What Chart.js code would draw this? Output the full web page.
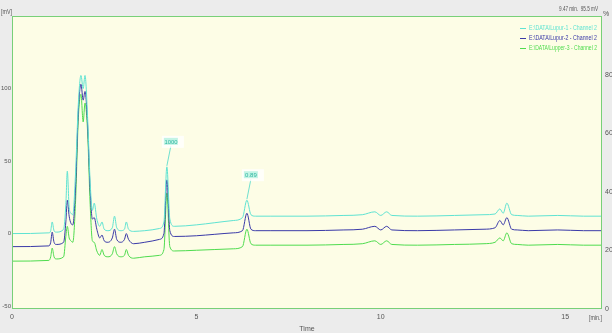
<!DOCTYPE html>
<html>
<head>
<meta charset="utf-8">
<script src="https://cdn.jsdelivr.net/npm/chart.js@4/dist/chart.umd.min.js"></script>
<style>
html,body{margin:0;padding:0;background:#ececec;}
#wrap{width:612px;height:333px;}
</style>
</head>
<body>
<div id="wrap"><canvas id="chrom" width="612" height="333"></canvas></div>
<script>
// retention time (min)
const times = [0, 1.00, 1.05, 1.09, 1.14, 1.20, 1.40, 1.46, 1.50, 1.55, 1.60, 1.65, 1.72, 1.80, 1.87, 1.93, 1.98, 2.05, 2.12, 2.18, 2.23, 2.30, 2.38, 2.44, 2.50, 2.60, 2.72, 2.78, 2.84, 2.95, 3.05, 3.10, 3.16, 3.30, 3.60, 4.00, 4.12, 4.20, 4.28, 4.40, 5.00, 5.50, 6.00, 6.25, 6.37, 6.48, 6.60, 7.00, 8.00, 9.00, 9.50, 9.84, 10.00, 10.16, 10.30, 11.00, 12.00, 12.80, 13.10, 13.23, 13.32, 13.42, 13.55, 13.70, 14.00, 14.80, 15.50, 16.00];

// signal (mV)
const lupur1 = [0, 0.5, 2, 8, 2, 1, 3, 20, 43, 18, 14, 13, 40, 90, 109, 100, 109, 80, 35, 16, 21, 10, 5, 8, 3, 2, 4, 12, 4, 2, 3, 8, 3, 1.5, 2, 3.5, 8, 46, 10, 5, 6, 7.5, 9, 11, 23, 13, 12, 12, 12, 12.5, 13, 15, 12.5, 15, 12.5, 12, 12.5, 13, 13.5, 17, 14, 21, 13, 12.5, 12, 12.5, 12, 12];
const lupur2 = [-9, -8.5, -6, 1, -6, -7.5, -6, 8, 23, 12, 7, 6, 30, 85, 103, 92, 98, 75, 30, 10, 11, 3, -3, -1, -5, -6, -3, 3, -4, -6, -4, 0, -4, -7, -6, -4, 0, 37, 2, -2, -1.5, -0.5, 0.5, 2, 14, 3, 2, 2, 2, 2.5, 3, 5, 2.5, 5, 2.5, 2, 2.5, 3, 4, 9, 6, 11, 3, 2.5, 2, 2.5, 2, 2];
const lupper3 = [-19, -18.5, -16, -10, -16, -17.5, -16, -2, 5, -3, -5, -6, 20, 80, 96, 77, 90, 70, 20, -5, -6, -12, -15, -11, -15, -16, -14, -9, -14, -16, -15, -11, -15, -17, -16, -15, -11, 28, -9, -12, -11.5, -11, -10.5, -9, 3, -7, -8, -8, -8, -7.5, -7, -5, -7.5, -5, -7.5, -8, -7.5, -7, -6, -3, -5, 0.5, -7, -7.5, -8, -7.5, -8, -8];

const seriesNames = ['E:\\DATA\\Lupur-1 - Channel 2', 'E:\\DATA\\Lupur-2 - Channel 2', 'E:\\DATA\\Lupper-3 - Channel 2'];
const seriesColors = ['#5fe3d2', '#3a3aa8', '#4fdc4f'];

const xTicks = [0, 5, 10, 15];
const leftTicks = [-50, 0, 50, 100];
const rightTicks = [0, 20, 40, 60, 80];

// peak labels on first trace
const peakTimes = [4.20, 6.37];
const peakTexts = ['1000', '0.89'];

const cursorText = '9.47 min.  95.5 mV';

function toPoints(vals){
  return times.map((t,i)=>({x:t,y:vals[i]}));
}

const tickFont = {family:'Liberation Sans', size:7};

const decor = {
  id:'decor',
  beforeDraw(chart){
    let ctx = chart.ctx, a = chart.chartArea;
    ctx.save();
    ctx.fillStyle = '#ececec';
    ctx.fillRect(0,0,chart.width,chart.height);
    ctx.fillStyle = '#fdfde6';
    ctx.fillRect(a.left,a.top,a.right-a.left,a.bottom-a.top);
    ctx.restore();
  },
  afterDatasetsDraw(chart){
    let ctx = chart.ctx, a = chart.chartArea;
    let xs = chart.scales.x, ys = chart.scales.y;
    ctx.save();
    // frame
    ctx.strokeStyle = '#78d078';
    ctx.lineWidth = 1;
    ctx.strokeRect(a.left+0.5,a.top+0.5,a.right-a.left-1,a.bottom-a.top-1);
    // peak labels
    ctx.font = '6px "Liberation Sans"';
    peakTimes.forEach((t,i)=>{
      let idx = times.indexOf(t);
      let px = xs.getPixelForValue(t), py = ys.getPixelForValue(lupur1[idx]);
      let bx = px+4, by = py-25;
      ctx.strokeStyle = '#6fe0cf';
      ctx.beginPath();
      ctx.moveTo(px,py-1);
      ctx.lineTo(bx,by+4);
      ctx.stroke();
      ctx.fillStyle = 'rgba(255,255,255,0.8)';
      ctx.fillRect(bx-9,by-6,22,12);
      ctx.fillStyle = 'rgba(120,230,205,0.45)';
      ctx.fillRect(bx-7,by-4,14,7);
      ctx.fillStyle = '#2fb5a0';
      ctx.textAlign = 'center';
      ctx.textBaseline = 'middle';
      ctx.fillText(peakTexts[i],bx,by,13);
    });
    ctx.restore();
  },
  afterDraw(chart){
    let ctx = chart.ctx;
    ctx.save();
    // legend
    ctx.font = '7px "Liberation Sans"';
    ctx.textBaseline = 'middle';
    ctx.textAlign = 'left';
    seriesNames.forEach((n,i)=>{
      let y = 28+i*10;
      ctx.strokeStyle = seriesColors[i];
      ctx.lineWidth = 1;
      ctx.beginPath();
      ctx.moveTo(520,y+0.5);
      ctx.lineTo(526,y+0.5);
      ctx.stroke();
      ctx.fillStyle = seriesColors[i];
      ctx.fillText(n,529,y,68);
    });
    // units and cursor readout
    ctx.fillStyle = '#555';
    ctx.font = '7px "Liberation Sans"';
    ctx.fillText('[mV]',1,12,11);
    ctx.fillText(cursorText,559,9,39);
    ctx.fillText('%',603,14);
    ctx.fillText('[min.]',589,318,13);
    ctx.restore();
  }
};

new Chart(document.getElementById('chrom'),{
  type:'line',
  data:{
    datasets:[lupur1,lupur2,lupper3].map((vals,i)=>({
      label:seriesNames[i],
      data:toPoints(vals),
      borderColor:seriesColors[i],
      borderWidth:1,
      pointRadius:0,
      cubicInterpolationMode:'monotone',
      yAxisID:'y'
    }))
  },
  options:{
    responsive:false,
    animation:false,
    layout:{padding:{top:16,left:0,right:0,bottom:0}},
    plugins:{legend:{display:false},tooltip:{enabled:false}},
    scales:{
      x:{
        type:'linear',
        min:0,max:16,
        afterBuildTicks(s){ s.ticks = xTicks.map(v=>({value:v})); },
        afterFit(s){ s.height = 24; },
        grid:{display:false,drawTicks:true,tickLength:3,color:'#888'},
        border:{display:false},
        ticks:{font:tickFont,color:'#555',padding:1,maxRotation:0},
        title:{display:true,text:'Time',font:tickFont,color:'#555',padding:{top:0,bottom:0}}
      },
      y:{
        position:'left',
        min:-52,max:150,
        afterBuildTicks(s){ s.ticks = leftTicks.map(v=>({value:v})); },
        afterFit(s){ s.width = 12; },
        grid:{display:false,tickLength:1},
        border:{display:false},
        ticks:{font:{family:'Liberation Sans',size:6},color:'#555',padding:0}
      },
      y2:{
        position:'right',
        min:0,max:100,
        afterBuildTicks(s){ s.ticks = rightTicks.map(v=>({value:v})); },
        afterFit(s){ s.width = 10; },
        grid:{display:false,tickLength:2},
        border:{display:false},
        ticks:{font:tickFont,color:'#555',padding:1}
      }
    }
  },
  plugins:[decor]
});
</script>
</body>
</html>
